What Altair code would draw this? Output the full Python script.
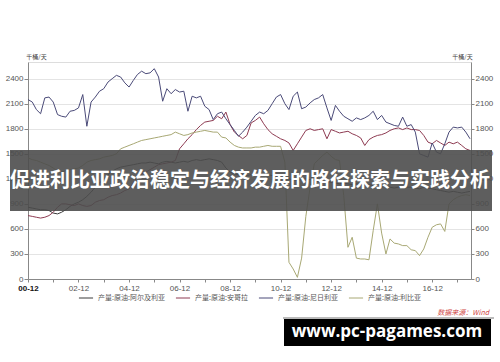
import altair as alt
import pandas as pd

series_names = ["产量:原油:阿尔及利亚", "产量:原油:安哥拉", "产量:原油:尼日利亚", "产量:原油:利比亚"]
series_colors = ["#3a3a3a", "#8e3b52", "#4a4a78", "#a8a874"]
y_ticks = [0, 300, 600, 900, 1200, 1500, 1800, 2100, 2400]
x_tick_years = list(range(2000, 2018))
title_text = "促进利比亚政治稳定与经济发展的路径探索与实践分析"
unit_text = "千桶/天"
source_text = "数据来源：Wind"
watermark_text = "www.pc-pagames.com"

algeria = [860, 850, 840, 830, 830, 820, 790, 780, 800, 830,
           870, 900, 920, 950, 990, 1040, 1100, 1150, 1200, 1250,
           1290, 1320, 1340, 1350, 1360, 1370, 1380, 1390, 1390, 1400,
           1390, 1380, 1400, 1410, 1400, 1390, 1400, 1410, 1400, 1420,
           1430, 1420, 1430, 1440, 1430, 1420, 1400, 1330, 1280, 1260,
           1250, 1250, 1240, 1250, 1260, 1250, 1240, 1250, 1240, 1230,
           1240, 1230, 1200, 1190, 1180, 1190, 1200, 1190, 1180, 1170,
           1160, 1170, 1160, 1150, 1140, 1150, 1140, 1130, 1140, 1130,
           1120, 1130, 1120, 1110, 1100, 1110, 1100, 1090, 1100, 1090,
           1100, 1100, 1090, 1080, 1100, 1090, 1080, 1070, 1060, 1050,
           1040, 1050, 1040, 1030, 1040, 1050]
angola = [760, 750, 740, 730, 740, 760, 800, 860, 900, 900,
          890, 880, 900, 880, 870, 880, 920, 940, 950, 980,
          1000, 1010, 1030, 1060, 1080, 1150, 1230, 1260, 1280, 1310,
          1340, 1370, 1380, 1390, 1400, 1420, 1560, 1620, 1680, 1730,
          1790, 1840, 1880, 1890, 1900, 1950, 1920, 2000, 1850, 1760,
          1720, 1680, 1720, 1870, 1900, 1940, 1860, 1790, 1740, 1710,
          1680, 1660, 1630, 1540, 1620, 1700, 1780, 1800, 1780, 1790,
          1800, 1680, 1790, 1770, 1750, 1760, 1770, 1740, 1720, 1690,
          1600, 1670, 1700, 1720, 1730, 1750, 1780, 1800, 1810, 1790,
          1810, 1790, 1790, 1780, 1720, 1640, 1620, 1660, 1630, 1600,
          1640, 1620, 1640, 1600, 1560, 1540]
nigeria = [2150, 2120, 2030, 1980, 2170, 2180, 2120, 1970, 1950, 1940,
           2010, 2020, 2050, 2210, 1830, 2120, 2180, 2250, 2280, 2360,
           2400, 2440, 2420, 2350, 2300, 2380, 2450, 2490, 2460, 2470,
           2520, 2420, 2130, 2280, 2220, 2270, 2240, 2250, 2010, 2190,
           2170, 2190, 2070, 2030, 1910, 1980, 2000, 1920, 1850, 1780,
           1710, 1760, 1820, 1890, 1960, 2000, 1980, 2020, 2100, 2180,
           2210, 2100, 2030, 2190, 2240, 2040, 2060, 2110, 2150, 2170,
           2210, 2050, 1900, 2080, 2010, 1950, 1920, 1890, 1930, 1910,
           1930, 1960, 2010, 1910, 1960, 1880, 1860, 1840, 1830, 1940,
           1830, 1850, 1760, 1500, 1480, 1460, 1630, 1520, 1500, 1620,
           1760, 1820, 1810, 1820, 1760, 1680]
libya = [1450, 1430, 1420, 1400, 1380, 1360, 1330, 1290, 1280, 1300,
         1310, 1320, 1330, 1360, 1400, 1420, 1430, 1440, 1460, 1470,
         1480, 1500, 1560, 1580, 1600, 1620, 1640, 1660, 1670, 1680,
         1690, 1700, 1710, 1720, 1730, 1760, 1740, 1720, 1730, 1750,
         1760, 1770, 1780, 1770, 1760, 1760, 1700, 1690, 1640, 1600,
         1580, 1570, 1570, 1570, 1580, 1580, 1590, 1600, 1590, 1590,
         1590, 1400, 200, 120, 20, 250, 750, 1100, 1380, 1430,
         1480, 1520, 1470, 1430, 1420, 1000, 380, 500, 250, 240,
         240, 230, 580, 900, 550, 300, 480, 430, 420, 400,
         400, 350, 340, 280, 360, 500, 620, 650, 660, 570,
         900, 950, 980, 1000, 1010, 1000]

# bi-monthly dates starting 2000-12
dates = []
yy, mm = 2000, 12
for _ in range(len(algeria)):
    dates.append(f"{yy}/{mm:02d}/01")
    mm += 2
    if mm > 12:
        mm -= 12
        yy += 1

rows = []
for name, vals in zip(series_names, [algeria, angola, nigeria, libya]):
    for d, v in zip(dates, vals):
        rows.append({"date": d, "value": v, "series": name})
df = pd.DataFrame(rows)

FONT = "Liberation Sans"
CJK = "Noto Sans CJK SC"

x_enc = alt.X(
    "date:T",
    scale=alt.Scale(domain=[alt.DateTime(year=2000, month=12, date=1),
                            alt.DateTime(year=2018, month=6, date=15)]),
    axis=alt.Axis(
        values=[alt.DateTime(year=yr, month=12, date=1) for yr in x_tick_years],
        labelExpr="year(datum.value) % 2 == 0 ? timeFormat(datum.value, '%y-%m') : ''",
        title=None, grid=False, labelFlush=False, labelOverlap=False,
        tickSize=3, labelPadding=2, labelFontSize=8,
        labelFontWeight={"condition": {"test": "year(datum.value) == 2000", "value": "bold"}, "value": "normal"},
        labelColor={"condition": {"test": "year(datum.value) == 2000", "value": "#111111"}, "value": "#555555"},
        zindex=0,
    ),
)

y_scale = alt.Scale(domain=[0, 2600], nice=False, zero=True)

lines = alt.Chart(df).mark_line(strokeWidth=1).encode(
    x=x_enc,
    y=alt.Y("value:Q", scale=y_scale,
            axis=alt.Axis(values=y_ticks, format="d", title=unit_text, titleAngle=0, titleX=8, titleY=-3,
                          titleAlign="center", titleBaseline="bottom", titleFontSize=6,
                          titleFontWeight="normal", titleFont=CJK, titleColor="#444",
                          grid=True, gridColor="#e4e4e4", tickSize=4, labelPadding=1,
                          labelFontSize=8, labelColor="#555555", zindex=0)),
    color=alt.Color("series:N", sort=series_names,
                    scale=alt.Scale(domain=series_names, range=series_colors),
                    legend=alt.Legend(orient="none", legendX=50, legendY=228, direction="horizontal",
                                      title=None, symbolType="stroke", symbolSize=200,
                                      symbolStrokeWidth=1, labelFontSize=7, labelColor="#555555",
                                      labelFont=CJK, columnPadding=8, labelLimit=200, columns=4)),
    order=alt.Order("date:T"),
)

right = alt.Chart(df).mark_line(strokeOpacity=0).encode(
    x=x_enc,
    y=alt.Y("value:Q", scale=y_scale,
            axis=alt.Axis(orient="right", values=y_ticks, format="d", title=unit_text, titleAngle=0, titleX=-9,
                          titleY=-3, titleAlign="center", titleBaseline="bottom", titleFontSize=6,
                          titleFontWeight="normal", titleFont=CJK, titleColor="#444",
                          grid=False, tickSize=3, labelPadding=1, labelFontSize=8,
                          labelColor="#555555", zindex=0)),
    detail="series:N",
)

one = pd.DataFrame({"t": [title_text]})

band = alt.Chart(one).mark_rect(color="#4d4d4d", opacity=0.9).encode(
    x=alt.value(-18), x2=alt.value(464), y=alt.value(88), y2=alt.value(149))

title = alt.Chart(one).mark_text(font=CJK, fontSize=20, fontWeight="bold", color="white",
                                 align="center", baseline="middle").encode(
    x=alt.value(222), y=alt.value(119), text="t:N")

src = alt.Chart(pd.DataFrame({"t": [source_text]})).mark_text(
    font=CJK, fontSize=7, color="#d04545", fontStyle="italic", align="right", baseline="middle").encode(
    x=alt.value(461), y=alt.value(251), text="t:N")

src_rule = alt.Chart(one).mark_rule(color="#777777", strokeWidth=1).encode(
    x=alt.value(255), x2=alt.value(466), y=alt.value(256))

wm_box = alt.Chart(one).mark_rect(color="black").encode(
    x=alt.value(256), x2=alt.value(463), y=alt.value(257), y2=alt.value(284))

wm_text = alt.Chart(pd.DataFrame({"t": [watermark_text]})).mark_text(
    font="Open Sans", fontSize=17, fontWeight="bold", color="white", align="center", baseline="middle").encode(
    x=alt.value(359), y=alt.value(270), text="t:N")

chart = alt.layer(lines, right, band, title, src, src_rule, wm_box, wm_text).resolve_scale(
    y="independent"
).properties(
    width=443, height=217,
    autosize=alt.AutoSizeParams(type="none"),
    padding={"left": 28, "top": 62, "right": 29, "bottom": 83},
).configure_view(stroke=None).configure_axis(
    labelFont=FONT, domainColor="#444444", tickColor="#444444", domainWidth=1, tickWidth=1
).configure(background="white")

chart.save("out.html", embed_options={"renderer": "svg", "actions": False})
